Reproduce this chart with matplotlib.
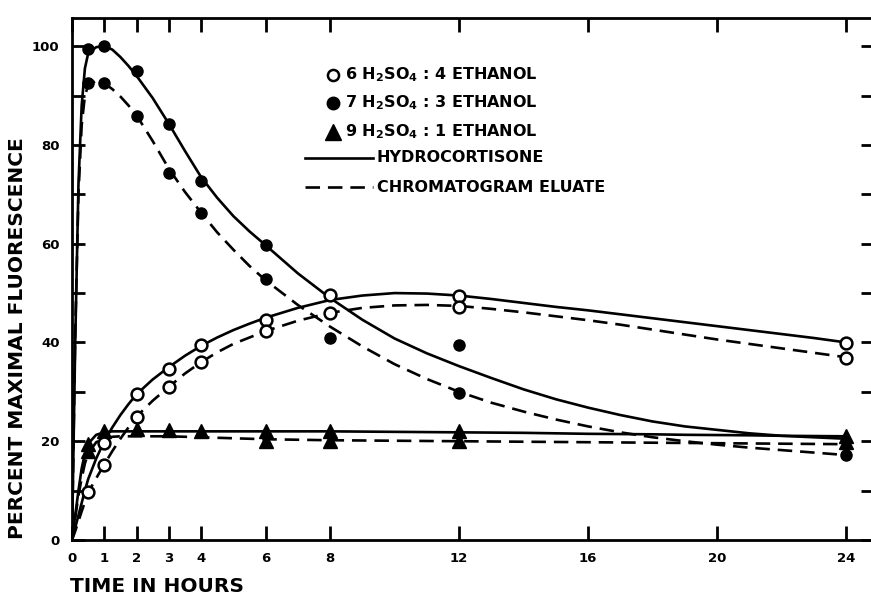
import matplotlib
matplotlib.use("Agg")
import matplotlib.pyplot as plt
from matplotlib.lines import Line2D

plt.rcParams['font.family'] = ['DejaVu Sans']
plt.rcParams['font.weight'] = 'bold'
plt.rcParams['mathtext.default'] = 'bf'

t_curve = [0, 0.1, 0.2, 0.3, 0.4, 0.5, 0.75, 1, 1.25, 1.5, 1.75, 2, 2.5, 3, 3.5, 4, 4.5, 5, 5.5, 6,
           7, 8, 9, 10, 11, 12, 13, 14, 15, 16, 17, 18, 19, 20, 21, 22, 23, 24]

# 7 H2SO4 : 3 ethanol (filled circles)
filled_hydro_curve = [0, 40, 72, 88, 95.5, 98.5, 99.8, 100, 99.3, 97.8, 96, 94,
                      89.5, 84.3, 78.8, 73.5, 69.3, 65.6, 62.5, 59.7,
                      54, 49, 44.6, 40.8, 37.8, 35.2, 32.8, 30.5, 28.5, 26.8, 25.3, 24, 23, 22.3, 21.6, 21.1, 20.8, 20.5]
filled_eluate_curve = [0, 42, 70, 84, 90, 92, 93, 92.5, 91.3, 89.8, 88, 86,
                       80.8, 75.2, 70.5, 66.3, 62.3, 58.8, 55.5, 52.6,
                       47.6, 43.2, 39.2, 35.6, 32.6, 30, 27.8, 26, 24.4, 23, 21.8, 20.8, 20, 19.3, 18.7, 18.2, 17.7, 17.2]
filled_hydro_t = [0.5, 1, 2, 3, 4, 6, 12]
filled_hydro_pts = [99.5, 100, 95, 84.2, 72.7, 59.7, 39.5]
filled_eluate_t = [0.5, 1, 2, 3, 4, 6, 8, 12, 24]
filled_eluate_pts = [92.5, 92.5, 85.8, 74.3, 66.2, 52.8, 41, 29.8, 17.2]

# 6 H2SO4 : 4 ethanol (open circles)
open_hydro_curve = [0, 2.5, 5, 7.5, 10, 12.3, 16.5, 20, 22.8, 25.3, 27.5, 29.5,
                    32.5, 35, 37.3, 39.3, 41, 42.5, 43.8, 45,
                    47, 48.6, 49.5, 50, 49.9, 49.5, 48.8, 48, 47.2, 46.5, 45.7, 44.9, 44.1, 43.3, 42.5, 41.7, 40.9, 40]
open_eluate_curve = [0, 1.8, 3.8, 5.8, 7.7, 9.6, 12.5, 15.3, 18, 20.5, 22.8, 25,
                     28.2, 31, 33.7, 36, 38, 39.7, 41, 42.3,
                     44.4, 46, 47, 47.5, 47.6, 47.4, 46.8, 46.1, 45.3, 44.5, 43.6, 42.6, 41.6, 40.6, 39.7, 38.8, 37.9, 37]
open_hydro_t = [1, 2, 3, 4, 6, 8, 12, 24]
open_hydro_pts = [19.6, 29.6, 34.6, 39.5, 44.5, 49.6, 49.4, 39.9]
open_eluate_t = [0.5, 1, 2, 3, 4, 6, 8, 12, 24]
open_eluate_pts = [9.7, 15.2, 25, 31, 36, 42.3, 46, 47.2, 36.8]

# 9 H2SO4 : 1 ethanol (triangles)
tri_hydro_curve = [0, 5, 10, 14.5, 17.5, 19.5, 21.3, 21.8, 22, 22, 22, 22,
                   22, 22, 22, 22, 22, 22, 22, 22,
                   22, 22, 21.95, 21.9, 21.85, 21.8, 21.75, 21.7, 21.6, 21.5, 21.45, 21.4, 21.3, 21.25, 21.2, 21.1, 21.05, 21]
tri_eluate_curve = [0, 4.5, 9, 12.5, 15.5, 17.5, 19.8, 20.6, 20.9, 21, 21, 21,
                    21, 21, 20.9, 20.8, 20.7, 20.6, 20.5, 20.4,
                    20.3, 20.2, 20.15, 20.1, 20.05, 20, 19.95, 19.9, 19.85, 19.8, 19.75, 19.7, 19.65, 19.6, 19.55, 19.5, 19.45, 19.4]
tri_hydro_t = [0.5, 1, 2, 3, 4, 6, 8, 12, 24]
tri_hydro_pts = [19.5, 22, 22.5, 22.3, 22, 22, 22, 22, 21]
tri_eluate_t = [0.5, 6, 8, 12, 24]
tri_eluate_pts = [18, 20, 20, 20, 19.8]

x_ticks = [0, 1, 2, 3, 4, 6, 8, 12, 16, 20, 24]
y_ticks = [0, 20, 40, 60, 80, 100]
y_minor = [10, 30, 50, 70, 90]
legend_labels = ["6 H$_2$SO$_4$ : 4 ETHANOL", "7 H$_2$SO$_4$ : 3 ETHANOL",
                 "9 H$_2$SO$_4$ : 1 ETHANOL", "HYDROCORTISONE", "CHROMATOGRAM ELUATE"]

W, H = 871, 597
fig = plt.figure(figsize=(W / 100, H / 100), dpi=100)
ax = fig.add_axes([72 / W, 57 / H, (873 - 72) / W, (540 - 18) / H])
ax.set_xlim(0, 24.83)
ax.set_ylim(0, 105.7)

lw = 1.9
dash = (0, (5.5, 3))
ax.plot(t_curve, filled_hydro_curve, color='k', lw=lw)
ax.plot(t_curve, filled_eluate_curve, color='k', lw=lw, linestyle=dash)
ax.plot(t_curve, open_hydro_curve, color='k', lw=lw)
ax.plot(t_curve, open_eluate_curve, color='k', lw=lw, linestyle=dash)
ax.plot(t_curve, tri_hydro_curve, color='k', lw=lw)
ax.plot(t_curve, tri_eluate_curve, color='k', lw=lw, linestyle=dash)

ax.plot(tri_hydro_t, tri_hydro_pts, '^', color='k', ms=10, ls='none', zorder=5)
ax.plot(tri_eluate_t, tri_eluate_pts, '^', color='k', ms=10, ls='none', zorder=5)
ax.plot(filled_hydro_t, filled_hydro_pts, 'o', color='k', ms=8, ls='none', zorder=6)
ax.plot(filled_eluate_t, filled_eluate_pts, 'o', color='k', ms=8, ls='none', zorder=6)
ax.plot(open_hydro_t, open_hydro_pts, 'o', mfc='white', mec='k', mew=1.8, ms=8.5, ls='none', zorder=7)
ax.plot(open_eluate_t, open_eluate_pts, 'o', mfc='white', mec='k', mew=1.8, ms=8.5, ls='none', zorder=7)

for s in ax.spines.values():
    s.set_linewidth(2)
ax.set_xticks(x_ticks)
ax.set_xticklabels([str(v) for v in x_ticks])
ax.set_yticks(y_ticks)
ax.set_yticklabels([str(v) for v in y_ticks])
ax.tick_params(axis='x', which='major', direction='in', length=10, width=2,
               top=True, labelsize=9.5, pad=9)
ax.tick_params(axis='y', which='major', direction='in', length=9, width=2,
               right=True, labelsize=9.5, pad=9)
ax.set_yticks(y_minor, minor=True)
ax.tick_params(axis='y', which='minor', right=True, direction='in', length=9, width=2)

fig.text(18 / W, 1 - 338 / H, "PERCENT MAXIMAL FLUORESCENCE", rotation=90,
         ha='center', va='center', fontsize=14.5, fontweight='bold')
fig.text(70 / W, 1 - 587 / H, "TIME IN HOURS", ha='left', va='center',
         fontsize=14.5, fontweight='bold')

# legend drawn by hand
def fx(px):
    return px / W

def fy(py):
    return 1 - py / H

rows = [75, 103, 132, 158, 187]
fig.add_artist(Line2D([fx(333)], [fy(rows[0])], marker='o', mfc='white', mec='k', mew=1.8, ms=8))
fig.add_artist(Line2D([fx(333)], [fy(rows[1])], marker='o', color='k', ms=9))
fig.add_artist(Line2D([fx(333)], [fy(rows[2])], marker='^', color='k', ms=11))
for i in range(3):
    fig.text(fx(345), fy(rows[i]), legend_labels[i], ha='left', va='center',
             fontsize=11.5, fontweight='bold')
fig.add_artist(Line2D([fx(305), fx(373)], [fy(rows[3])] * 2, color='k', lw=lw))
fig.add_artist(Line2D([fx(305), fx(373)], [fy(rows[4])] * 2, color='k', lw=lw, linestyle=dash))
fig.text(fx(377), fy(rows[3]), legend_labels[3], ha='left', va='center', fontsize=11.5, fontweight='bold')
fig.text(fx(377), fy(rows[4]), legend_labels[4], ha='left', va='center', fontsize=11.5, fontweight='bold')

fig.savefig("out.png", dpi=100)
